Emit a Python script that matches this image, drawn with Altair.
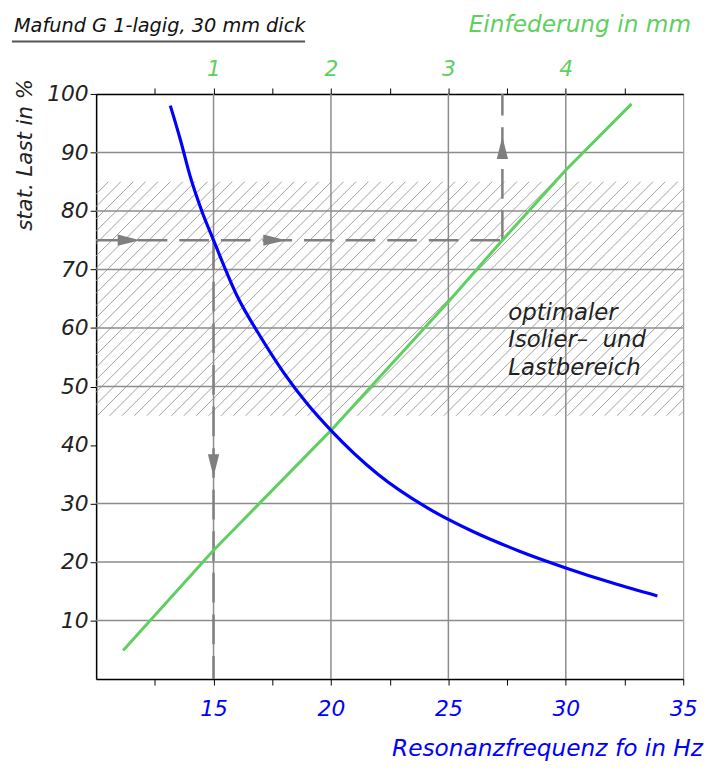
import altair as alt
import pandas as pd

# ---------------- data ----------------
blue_hz = [13.16, 13.6, 14.0, 14.5, 15.0, 16.0, 17.0, 18.0, 19.0, 20.0,
           22.0, 24.0, 26.0, 28.0, 30.0, 32.0, 33.9]
blue_load = [98.0, 92.0, 86.0, 80.0, 75.0, 65.5, 58.5, 52.3, 47.0, 42.5,
             35.0, 29.5, 25.3, 21.9, 19.0, 16.4, 14.2]

green_mm = [0.23, 1.0, 2.0, 3.0, 3.46, 4.0, 4.56]
green_load = [4.9, 22.0, 42.5, 64.5, 75.0, 87.0, 98.3]

hz_ticks = [12.5, 15, 17.5, 20, 22.5, 25, 27.5, 30, 32.5, 35]
mm_ticks = [0.5, 1, 1.5, 2, 2.5, 3, 3.5, 4, 4.5]
load_ticks = [10, 20, 30, 40, 50, 60, 70, 80, 90, 100]
hz_grid = [15, 20, 25, 30]
load_grid = [10, 20, 30, 50, 60, 70, 80, 90]

band_low = [45]
band_high = [85]

guide_x = [10, 15, 27.3]
guide_y = [75, 75, 75]
guide_x2 = [27.3, 15, 27.3]
guide_y2 = [75, 0, 100]

arrow_hz = [11.4, 17.6, 15.0, 27.3]
arrow_load = [75, 75, 36.5, 90.8]
arrow_dir = ["right", "right", "down", "up"]

title_text = ["Mafund G 1-lagig, 30 mm dick"]
top_title = ["Einfederung in mm"]
y_title = ["stat. Last in %"]
x_title = ["Resonanzfrequenz fo in Hz"]
note_text = ["optimaler\nIsolier\u2013\u00a0\u00a0und\nLastbereich"]
note_hz = [27.55]
note_load = [62.6]

# ---------------- styling ----------------
W, H = 593, 591
FONT = "DejaVu Sans"
BLUE = "#0000ff"
GREEN = "#5fcf5f"
GRIDC = "#8c8c8c"
DASHC = "#7f7f7f"

xs = alt.Scale(domain=[10, 35], nice=False, zero=False)
ys = alt.Scale(domain=[0, 100], nice=False, zero=False)

x_axis = alt.Axis(values=hz_ticks, labelExpr="datum.value % 5 == 0 ? datum.label : ''",
                  grid=False, title=None, labelFont=FONT, labelFontSize=22,
                  labelFontStyle="italic", labelColor=BLUE, tickColor="black",
                  tickSize=6, domainColor="black", domainWidth=1.5,
                  labelPadding=14, labelFlush=False)
y_axis = alt.Axis(values=load_ticks, grid=False, title=None, labelFont=FONT,
                  labelFontSize=22, labelFontStyle="italic", labelColor="#222",
                  tickColor="black", tickSize=6, domainColor="black",
                  domainWidth=1.5, labelPadding=2)

# hatched optimal band (45-degree lines)
px_per_hz = W / 25.0
px_per_load = H / 100.0
run_hz = (band_high[0] - band_low[0]) * px_per_load / px_per_hz
step_hz = 12.5 / px_per_hz
hatch = (
    alt.Chart(alt.sequence(0, 70, as_="i"))
    .transform_calculate(
        x1=f"{10 - run_hz} + datum.i * {step_hz}",
        x2=f"{10 - run_hz} + datum.i * {step_hz} + {run_hz}",
        y1=str(band_low[0]),
        y2=str(band_high[0]),
    )
    .mark_rule(color="#a0a0a0", strokeWidth=1, clip=True)
    .encode(x=alt.X("x1:Q", scale=xs, axis=x_axis), x2="x2:Q",
            y=alt.Y("y1:Q", scale=ys, axis=y_axis), y2="y2:Q")
)

vgrid = alt.Chart(pd.DataFrame({"x": hz_grid})).mark_rule(
    color=GRIDC, strokeWidth=1.5).encode(x=alt.X("x:Q", scale=xs))
hgrid = alt.Chart(pd.DataFrame({"y": load_grid})).mark_rule(
    color=GRIDC, strokeWidth=1.5).encode(y=alt.Y("y:Q", scale=ys))

guides = alt.Chart(pd.DataFrame({"x": guide_x, "y": guide_y,
                                 "x2": guide_x2, "y2": guide_y2})).mark_rule(
    color=DASHC, strokeWidth=2.5, strokeDash=[30, 12]).encode(
    x=alt.X("x:Q", scale=xs), y=alt.Y("y:Q", scale=ys), x2="x2:Q", y2="y2:Q")

arrows = alt.Chart(pd.DataFrame({"x": arrow_hz, "y": arrow_load,
                                 "d": arrow_dir})).mark_point(
    filled=True, color=DASHC, opacity=1, size=520, strokeWidth=0).encode(
    x=alt.X("x:Q", scale=xs), y=alt.Y("y:Q", scale=ys),
    shape=alt.Shape("d:N", legend=None, scale=alt.Scale(
        domain=["right", "down", "up"],
        range=["M-1,-0.5L1,0L-1,0.5Z", "M-0.5,-1L0.5,-1L0,1Z",
               "M-0.5,1L0.5,1L0,-1Z"])))

note = alt.Chart(pd.DataFrame({"x": note_hz, "y": note_load, "t": note_text})).mark_text(
    align="left", baseline="middle", font=FONT, fontSize=23, fontStyle="italic",
    color="#222", lineBreak="\n", lineHeight=28).encode(
    x=alt.X("x:Q", scale=xs), y=alt.Y("y:Q", scale=ys), text="t:N")

main = alt.layer(hatch, vgrid, hgrid, guides, arrows, note)

green = alt.Chart(pd.DataFrame({"mm": green_mm, "y": green_load})).mark_line(
    color=GREEN, strokeWidth=3).encode(
    x=alt.X("mm:Q", scale=alt.Scale(domain=[0, 5], nice=False, zero=False),
            axis=alt.Axis(orient="top", values=mm_ticks,
                          labelExpr="datum.value % 1 == 0 ? format(datum.value, 'd') : ''",
                          grid=False, title=None, labelFont=FONT, labelFontSize=22,
                          labelFontStyle="italic", labelColor=GREEN,
                          tickColor="black", tickSize=6, domainColor="black",
                          domainWidth=1.5, labelPadding=8, labelFlush=False)),
    y=alt.Y("y:Q", scale=ys))

# blue curve drawn above the green line, on an identical (hidden-axis) Hz scale
blue = alt.Chart(pd.DataFrame({"x": blue_hz, "y": blue_load})).mark_line(
    color=BLUE, strokeWidth=3.2, interpolate="monotone").encode(
    x=alt.X("x:Q", scale=xs, axis=None), y=alt.Y("y:Q", scale=ys))


def label(data, **kw):
    return alt.Chart(pd.DataFrame({"t": data})).mark_text(font=FONT, fontStyle="italic", **kw)


title = label(title_text, align="left", baseline="alphabetic", fontSize=19.5,
              color="#111").encode(x=alt.value(-83), y=alt.value(-63), text="t:N")
underline = alt.Chart(pd.DataFrame({"t": title_text})).mark_rule(
    color="#555", strokeWidth=2).encode(x=alt.value(-85), x2=alt.value(211),
                                        y=alt.value(-53))
ttl_top = label(top_title, align="right", baseline="alphabetic", fontSize=23.5,
                color=GREEN).encode(x=alt.value(601), y=alt.value(-63), text="t:N")
ttl_y = label(y_title, align="right", baseline="middle", fontSize=21.5, angle=270,
              color="#222").encode(x=alt.value(-71), y=alt.value(-15), text="t:N")
ttl_x = label(x_title, align="right", baseline="alphabetic", fontSize=23.5,
              color=BLUE).encode(x=alt.value(613), y=alt.value(669), text="t:N")

chart = alt.layer(main, green, blue, title, underline, ttl_top, ttl_y, ttl_x).resolve_scale(
    x="independent").properties(
    width=W, height=H,
    autosize=alt.AutoSizeParams(type="none"),
    padding={"left": 89, "top": 83, "right": 22, "bottom": 82},
).configure_view(stroke="#888", strokeWidth=1)

chart.save("out.html", embed_options={"renderer": "svg", "actions": False})
